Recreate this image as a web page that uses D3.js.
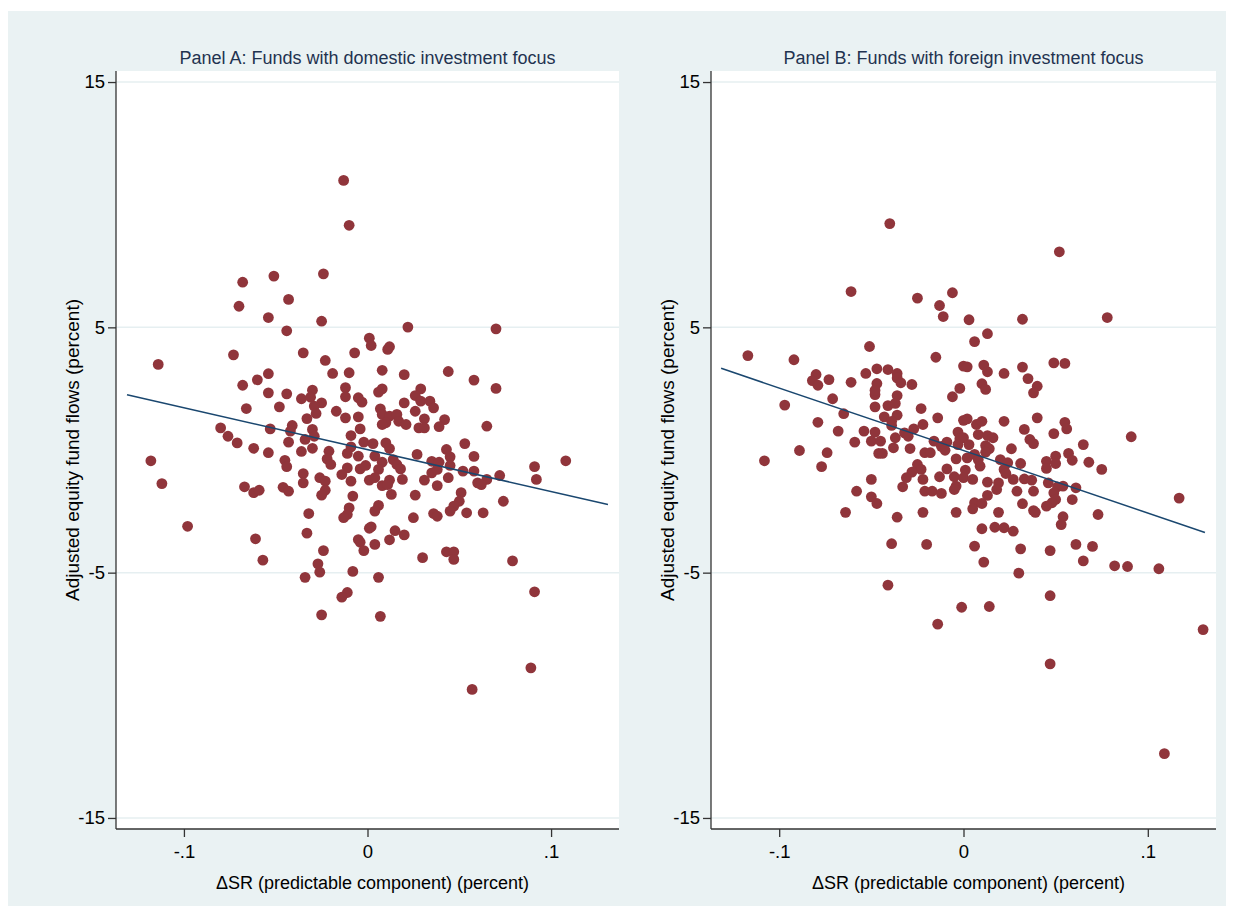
<!DOCTYPE html>
<html>
<head>
<meta charset="utf-8">
<script src="https://cdn.jsdelivr.net/npm/d3@7"></script>
<style>
body { margin: 0; background: #fff; }
text { font-family: "Liberation Sans", Arial, sans-serif; }
</style>
</head>
<body>
<div id="chart"></div>
<script>
var W = 1233, H = 916;

// tick values and labels
var xTicks = [-0.1, 0, 0.1];
var xTickLabels = ["-.1", "0", ".1"];
var yTicks = [15, 5, -5, -15];
var yTickLabels = ["15", "5", "-5", "-15"];

var panelTitles = ["Panel A: Funds with domestic investment focus",
                   "Panel B: Funds with foreign investment focus"];
var xTitle = "\u0394SR (predictable component) (percent)";
var yTitle = "Adjusted equity fund flows (percent)";

// Panel A points: [dSR, flow]
var domesticPts = [
 [-0.013,10.99],[-0.010,9.16],[-0.068,6.84],[-0.051,7.09],[-0.024,7.18],[-0.043,6.14],[-0.070,5.86],
 [-0.054,5.40],[-0.025,5.25],[-0.044,4.86],[0.022,5.01],[0.070,4.94],[0.001,4.56],[0.002,4.26],
 [0.011,4.10],[0.012,4.21],[-0.073,3.88],[-0.035,3.96],[-0.023,3.65],[-0.007,3.96],[-0.114,3.49],
 [-0.054,3.11],[-0.019,3.12],[-0.010,3.15],[0.008,3.25],[0.020,3.07],[0.044,3.20],
 [-0.068,2.64],[-0.060,2.86],[-0.054,2.33],[-0.044,2.29],[-0.036,2.09],[-0.030,2.44],[-0.031,2.15],
 [-0.025,1.92],[-0.029,1.79],[-0.012,2.54],[-0.012,2.17],[-0.005,2.13],[-0.003,1.95],[0.008,2.49],
 [0.006,2.36],[0.020,1.92],[0.029,2.49],[0.026,2.22],[0.029,1.99],[0.034,1.99],[0.036,1.72],
 [0.058,2.85],[0.070,2.51],[-0.066,1.69],[-0.048,1.76],[-0.028,1.49],[-0.033,1.28],[-0.017,1.58],
 [-0.012,1.31],[-0.005,1.35],[0.007,1.68],[0.008,1.45],[0.012,1.38],[0.016,1.45],[0.010,1.11],
 [0.017,1.17],[0.021,1.04],[0.008,1.04],[0.026,1.58],[0.031,1.27],[0.042,1.24],[0.028,0.90],
 [0.031,0.90],[0.039,0.95],[0.065,0.97],[-0.080,0.90],[-0.076,0.56],[-0.071,0.29],[-0.062,0.07],
 [-0.054,-0.11],[-0.053,0.86],[-0.041,1.00],[-0.042,0.77],[-0.043,0.32],[-0.034,0.43],[-0.030,0.84],
 [-0.029,0.56],[-0.036,-0.06],[-0.030,0.07],[-0.009,0.59],[-0.004,0.86],[-0.002,0.32],[0.003,0.26],
 [-0.009,0.13],[-0.021,-0.05],[-0.011,-0.14],[0.010,0.29],[0.012,0.06],[0.053,0.26],[0.043,0.02],
 [0.027,-0.18],[-0.005,-0.25],[0.004,-0.25],[-0.022,-0.36],[-0.020,-0.59],[-0.118,-0.44],[-0.045,-0.42],
 [-0.044,-0.68],[0.045,-0.28],[0.058,-0.26],[0.108,-0.44],[0.008,-0.50],[0.014,-0.39],[0.016,-0.59],
 [0.018,-0.77],[0.035,-0.46],[0.039,-0.50],[0.045,-0.63],[0.035,-0.93],[0.038,-0.79],[0.052,-0.86],
 [0.058,-0.86],[0.091,-0.68],[0.092,-1.20],[0.072,-1.04],[0.060,-1.34],[0.065,-1.20],[0.062,-1.41],
 [-0.011,-0.73],[-0.014,-1.00],[-0.004,-0.77],[-0.001,-0.63],[0.006,-0.79],[-0.009,-1.27],[-0.035,-0.96],
 [-0.035,-1.34],[-0.026,-1.13],[-0.023,-1.27],[-0.023,-1.64],[-0.025,-1.84],[0.001,-1.23],[0.004,-1.13],
 [0.012,-1.23],[0.008,-1.45],[0.011,-1.41],[0.019,-1.20],[0.031,-1.23],[0.038,-1.45],[0.044,-1.13],
 [-0.112,-1.37],[-0.067,-1.50],[-0.062,-1.74],[-0.059,-1.64],[-0.046,-1.52],[-0.043,-1.68],[-0.008,-1.88],
 [0.013,-1.81],[0.026,-1.84],[0.051,-1.74],[0.050,-2.09],[0.047,-2.29],[0.045,-2.49],[0.074,-2.09],
 [-0.010,-2.36],[-0.011,-2.63],[-0.013,-2.76],[0.006,-2.26],[0.004,-2.49],[-0.032,-2.59],[0.025,-2.76],
 [0.036,-2.59],[0.038,-2.70],[0.054,-2.56],[0.063,-2.56],
 [-0.098,-3.11],[-0.061,-3.62],[-0.057,-4.49],[-0.033,-3.39],[-0.024,-4.10],[-0.027,-4.64],[-0.026,-4.98],
 [-0.034,-5.19],[0.001,-3.19],[0.002,-3.13],[-0.005,-3.65],[-0.004,-3.76],[-0.002,-4.10],[0.004,-3.85],
 [0.015,-3.29],[0.012,-3.66],[0.020,-3.46],[0.030,-4.39],[0.043,-4.15],[0.047,-4.15],[0.047,-4.46],
 [0.079,-4.52],[-0.008,-4.95],[0.006,-5.19],[-0.011,-5.81],[-0.014,-6.00],[0.091,-5.78],[-0.025,-6.72],
 [0.007,-6.78],[0.089,-8.88],[0.057,-9.76]
];

// Panel B points: [dSR, flow]
var foreignPts = [
 [-0.040,9.23],[0.052,8.08],[-0.061,6.46],[-0.025,6.19],[-0.006,6.41],[-0.013,5.89],[-0.011,5.44],
 [0.003,5.31],[0.032,5.33],[0.078,5.40],[0.013,4.74],[0.006,4.42],[-0.051,4.22],[-0.117,3.85],
 [-0.092,3.68],[-0.015,3.78],[0.000,3.42],[0.002,3.39],[0.011,3.46],[0.013,3.19],[0.022,3.12],
 [0.032,3.38],[0.035,2.91],[0.040,2.60],[0.049,3.55],[0.055,3.53],[-0.080,3.08],[-0.082,2.83],
 [-0.079,2.64],[-0.073,2.87],[-0.061,2.76],[-0.053,3.12],[-0.047,3.31],[-0.041,3.28],[-0.036,3.12],
 [-0.036,2.94],[-0.034,2.74],[-0.047,2.71],[-0.028,2.67],[-0.002,2.51],[0.010,2.70],[0.012,2.47],
 [0.038,2.33],[-0.048,2.26],[-0.048,2.43],[-0.036,2.22],[-0.006,2.17],
 [-0.097,1.83],[-0.071,2.09],[-0.065,1.48],[-0.079,1.13],[-0.068,0.77],[-0.048,1.76],[-0.041,1.81],
 [-0.037,1.90],[-0.036,1.42],[-0.043,1.35],[-0.039,1.17],[-0.039,1.00],[-0.023,1.69],[-0.022,1.04],
 [-0.014,1.31],[-0.027,0.86],[-0.032,0.70],[-0.030,0.56],[-0.054,0.77],[-0.048,0.73],[-0.050,0.36],
 [-0.045,0.36],[-0.059,0.32],[-0.037,0.50],[-0.038,0.09],[-0.029,0.06],[-0.046,-0.14],[-0.044,-0.14],
 [-0.089,-0.02],[-0.074,-0.11],[-0.108,-0.44],[-0.077,-0.68],[0.000,1.21],[0.002,1.27],[0.007,1.04],
 [0.010,1.17],[0.022,1.17],[0.040,1.31],[0.033,0.84],[0.055,1.13],[0.056,0.86],[0.049,0.67],
 [0.091,0.54],[-0.003,0.73],[-0.002,0.46],[0.000,0.50],[0.008,0.63],[0.013,0.59],[0.016,0.50],
 [-0.016,0.36],[-0.009,0.32],[-0.012,0.15],[-0.010,-0.01],[0.003,0.22],[-0.003,0.22],[0.012,0.18],
 [0.014,0.05],[0.012,-0.09],[0.036,0.43],[0.038,0.26],[0.026,0.05],[0.065,0.22],[-0.021,-0.11],
 [-0.018,-0.11],[-0.004,-0.36],[0.002,-0.32],[0.006,-0.18],[0.008,-0.39],[0.020,-0.39],[0.024,-0.52],
 [0.031,-0.55],[0.045,-0.46],[0.050,-0.25],[0.050,-0.55],[0.057,-0.14],[0.059,-0.42],[0.068,-0.50],
 [0.045,-0.75],[0.075,-0.79],[-0.025,-0.59],[-0.023,-0.79],[-0.028,-0.90],[-0.031,-1.13],[-0.033,-1.50],
 [-0.022,-1.20],[-0.009,-0.77],[-0.013,-1.09],[-0.005,-1.09],[0.001,-0.82],[0.000,-1.13],[0.005,-1.20],
 [0.009,-0.66],[-0.004,-1.47],[-0.005,-1.61],[0.013,-1.31],[0.019,-1.34],[0.018,-1.61],[0.022,-0.79],
 [0.023,-0.96],[0.027,-1.20],[0.033,-1.18],[0.037,-1.23],[0.038,-1.68],[0.029,-1.68],[0.046,-1.34],
 [0.051,-1.50],[0.054,-1.47],[0.049,-1.75],[0.061,-1.54],[0.050,-2.02],[0.048,-2.15],[0.045,-2.29],
 [0.059,-2.02],[-0.050,-1.20],[-0.058,-1.68],[-0.050,-1.91],[-0.047,-2.18],[-0.064,-2.54],[-0.036,-2.74],
 [-0.021,-1.68],[-0.017,-1.68],[-0.012,-1.77],[-0.022,-2.54],[-0.004,-2.54],[0.006,-2.15],[0.010,-2.18],
 [0.005,-2.40],[0.013,-1.85],[0.019,-2.54],[0.032,-2.19],[0.038,-2.47],[0.039,-2.54],[0.073,-2.63],
 [0.054,-2.72],[0.053,-3.04],[0.117,-1.96],[0.010,-3.21],[0.017,-3.15],[0.022,-3.17],[0.027,-3.31],
 [-0.039,-3.82],[-0.020,-3.85],[0.006,-3.92],[0.031,-4.03],[0.047,-4.10],[0.061,-3.85],[0.070,-3.93],
 [0.011,-4.57],[0.065,-4.52],[0.082,-4.72],[0.089,-4.75],[0.106,-4.84],[0.030,-5.02],[-0.041,-5.51],
 [0.047,-5.94],[-0.001,-6.41],[0.014,-6.38],[-0.014,-7.10],[0.130,-7.32],[0.047,-8.72],[0.109,-12.38]
];

// linear fit endpoints
var domesticFitX = [-0.131, 0.131];
var domesticFitY = [2.25, -2.22];
var foreignFitX = [-0.1315, 0.131];
var foreignFitY = [3.33, -3.36];

var svg = d3.select("#chart").append("svg")
	.attr("width", W)
	.attr("height", H);

svg.append("rect")
	.attr("x", 8).attr("y", 11)
	.attr("width", 1218).attr("height", 895)
	.attr("fill", "#eaf2f3");

var panels = [
	{ left: 116, right: 619, pts: domesticPts, fx: domesticFitX, fy: domesticFitY, title: panelTitles[0] },
	{ left: 711, right: 1216, pts: foreignPts, fx: foreignFitX, fy: foreignFitY, title: panelTitles[1] }
];
var plotTop = 71, plotBottom = 829;

panels.forEach(function(p) {
	var x = d3.scaleLinear().domain([-0.137, 0.137]).range([p.left, p.right]);
	var y = d3.scaleLinear().domain([-15.45, 15.45]).range([plotBottom, plotTop]);

	var g = svg.append("g");

	g.append("rect")
		.attr("x", p.left).attr("y", plotTop)
		.attr("width", p.right - p.left).attr("height", plotBottom - plotTop)
		.attr("fill", "#fff");

	// horizontal grid
	g.selectAll(".grid")
		.data(yTicks)
		.enter().append("line")
		.attr("x1", p.left).attr("x2", p.right)
		.attr("y1", function(d) { return y(d); })
		.attr("y2", function(d) { return y(d); })
		.attr("stroke", "#e6eff1")
		.attr("stroke-width", 1.5);

	var yAxis = d3.axisLeft(y).tickValues(yTicks)
		.tickFormat(function(d, i) { return yTickLabels[i]; })
		.tickSize(8).tickPadding(3);
	var ya = g.append("g")
		.attr("transform", "translate(" + p.left + ",0)")
		.call(yAxis);

	var xAxis = d3.axisBottom(x).tickValues(xTicks)
		.tickFormat(function(d, i) { return xTickLabels[i]; })
		.tickSize(8).tickPadding(8);
	var xa = g.append("g")
		.attr("transform", "translate(0," + plotBottom + ")")
		.call(xAxis);

	ya.select(".domain").attr("d", "M0," + plotTop + "V" + plotBottom);
	xa.select(".domain").attr("d", "M" + p.left + ",0H" + p.right);
	[ya, xa].forEach(function(a) {
		a.select(".domain").attr("stroke", "#333").attr("stroke-width", 1.3);
		a.selectAll(".tick line").attr("stroke", "#333").attr("stroke-width", 1.3);
		a.selectAll(".tick text").attr("fill", "#000")
			.style("font-size", "18.5px")
			.style("font-family", "'Liberation Sans', Arial, sans-serif");
	});

	// points
	g.selectAll(".dot")
		.data(p.pts)
		.enter().append("circle")
		.attr("cx", function(d) { return x(d[0]); })
		.attr("cy", function(d) { return y(d[1]); })
		.attr("r", 5.4)
		.attr("fill", "#90353b");

	// fitted line
	var line = d3.line()
		.x(function(d) { return x(d[0]); })
		.y(function(d) { return y(d[1]); });
	g.append("path")
		.datum(p.fx.map(function(v, i) { return [v, p.fy[i]]; }))
		.attr("d", line)
		.attr("fill", "none")
		.attr("stroke", "#1a476f")
		.attr("stroke-width", 1.5);

	var cx = (p.left + p.right) / 2;
	g.append("text")
		.attr("x", cx).attr("y", 64)
		.attr("text-anchor", "middle")
		.attr("fill", "#1f3350")
		.style("font-size", "18px")
		.text(p.title);

	g.append("text")
		.attr("x", cx + 5).attr("y", 889)
		.attr("text-anchor", "middle")
		.attr("fill", "#000")
		.style("font-size", "18px")
		.text(xTitle);

	g.append("text")
		.attr("transform", "translate(" + (p.left - 37) + "," + ((plotTop + plotBottom) / 2) + ") rotate(-90)")
		.attr("text-anchor", "middle")
		.attr("fill", "#000")
		.style("font-size", "19px")
		.text(yTitle);
});
</script>
</body>
</html>
